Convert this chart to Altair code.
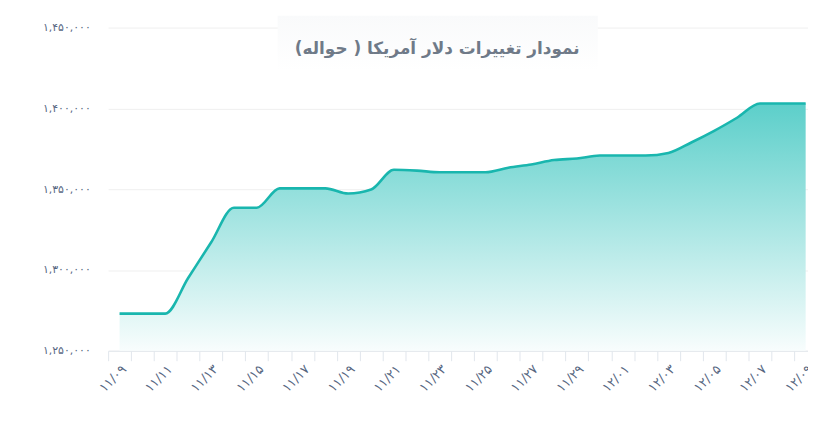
import json
import altair as alt
import pandas as pd

dates = ["۱۱/۰۹", "۱۱/۱۰", "۱۱/۱۱", "۱۱/۱۲", "۱۱/۱۳", "۱۱/۱۴", "۱۱/۱۵", "۱۱/۱۶",
         "۱۱/۱۷", "۱۱/۱۸", "۱۱/۱۹", "۱۱/۲۰", "۱۱/۲۱", "۱۱/۲۲", "۱۱/۲۳", "۱۱/۲۴",
         "۱۱/۲۵", "۱۱/۲۶", "۱۱/۲۷", "۱۱/۲۸", "۱۱/۲۹", "۱۱/۳۰", "۱۲/۰۱", "۱۲/۰۲",
         "۱۲/۰۳", "۱۲/۰۴", "۱۲/۰۵", "۱۲/۰۶", "۱۲/۰۷", "۱۲/۰۸", "۱۲/۰۹"]
prices = [1273000, 1273000, 1273000, 1295000, 1317000, 1338500, 1338500, 1350500,
          1350500, 1350500, 1347300, 1349800, 1362000, 1361500, 1360500, 1360500,
          1360500, 1363300, 1365300, 1368000, 1369000, 1370800, 1370800, 1370800,
          1372400, 1378900, 1386100, 1394200, 1403000, 1403000, 1403000]
y_ticks = [1250000, 1300000, 1350000, 1400000, 1450000]
y_tick_labels = ["۱,۲۵۰,۰۰۰", "۱,۳۰۰,۰۰۰", "۱,۳۵۰,۰۰۰", "۱,۴۰۰,۰۰۰", "۱,۴۵۰,۰۰۰"]
title_text = "نمودار تغییرات دلار آمریکا ( حواله)"

df = pd.DataFrame({"idx": list(range(len(dates))), "date": dates, "price": prices})

W, H = 706, 326
DAY_PX = 23.07
x_max = -0.5 + W / DAY_PX

label_arr = json.dumps(dates, ensure_ascii=False)
y_map = json.dumps({str(v): l for v, l in zip(y_ticks, y_tick_labels)}, ensure_ascii=False)
x_tick_vals = [i - 0.5 for i in range(len(dates))]
x_label_vals = list(range(0, len(dates), 2))
x_vals = sorted(x_tick_vals + x_label_vals)

AXIS_LINE = "#e1e6ec"
LABEL_COLOR = "#56667f"
FONT = "DejaVu Sans"

x_enc = alt.X(
    "idx:Q",
    scale=alt.Scale(domain=[-0.5, x_max], nice=False, zero=False),
    axis=alt.Axis(
        values=x_vals,
        labelExpr=f"{label_arr}[datum.value] || ''",
        labelAngle=-45,
        labelOverlap=False,
        labelFlush=False,
        labelBound=False,
        grid=False,
        tickColor={"condition": {"test": "datum.value % 1 !== 0", "value": AXIS_LINE},
                   "value": "transparent"},
        tickSize=10,
        domainColor=AXIS_LINE,
        labelPadding=2,
        labelFontSize=13,
        labelFont=FONT,
        labelColor=LABEL_COLOR,
        title=None,
    ),
)
y_enc = alt.Y(
    "price:Q",
    scale=alt.Scale(domain=[y_ticks[0], y_ticks[-1]], nice=False, zero=False),
    axis=alt.Axis(
        values=y_ticks,
        labelExpr=f"{y_map}[''+datum.value]",
        ticks=False,
        domain=False,
        labelPadding=18,
        gridColor="#efefef",
        labelFontSize=11,
        labelFont=FONT,
        labelColor=LABEL_COLOR,
        title=None,
    ),
)

area = alt.Chart(df).mark_area(
    interpolate="monotone",
    opacity=1,
    line={"color": "#19b6ae", "strokeWidth": 2.6},
    color=alt.Gradient(
        gradient="linear",
        stops=[alt.GradientStop(color="#5ccfca", offset=0),
               alt.GradientStop(color="#f8fdfd", offset=1)],
        x1=0, x2=0, y1=0, y2=1,
    ),
).encode(x=x_enc, y=y_enc, y2=alt.datum(y_ticks[0]))

box_df = pd.DataFrame({"k": [0]})
box = alt.Chart(box_df).mark_rect(
    color=alt.Gradient(
        gradient="linear",
        stops=[alt.GradientStop(color="#f9fafb", offset=0),
               alt.GradientStop(color="#ffffff", offset=1)],
        x1=0, x2=0, y1=0, y2=1,
    ),
).encode(x=alt.value(171), x2=alt.value(494), y=alt.value(-12), y2=alt.value(44))

title = alt.Chart(box_df).mark_text(
    text=title_text, font=FONT, fontWeight="bold", fontSize=17,
    color="#6f7a88", align="center", baseline="middle",
).encode(x=alt.value(332), y=alt.value(22))

chart = alt.layer(area, box, title).properties(
    width=W, height=H,
    padding={"left": 101, "top": 18, "right": 0, "bottom": 60},
    autosize=alt.AutoSizeParams(type="none"),
    background="white",
).configure_view(stroke=None)

chart.save("out.html", embed_options={"renderer": "svg", "actions": False})
